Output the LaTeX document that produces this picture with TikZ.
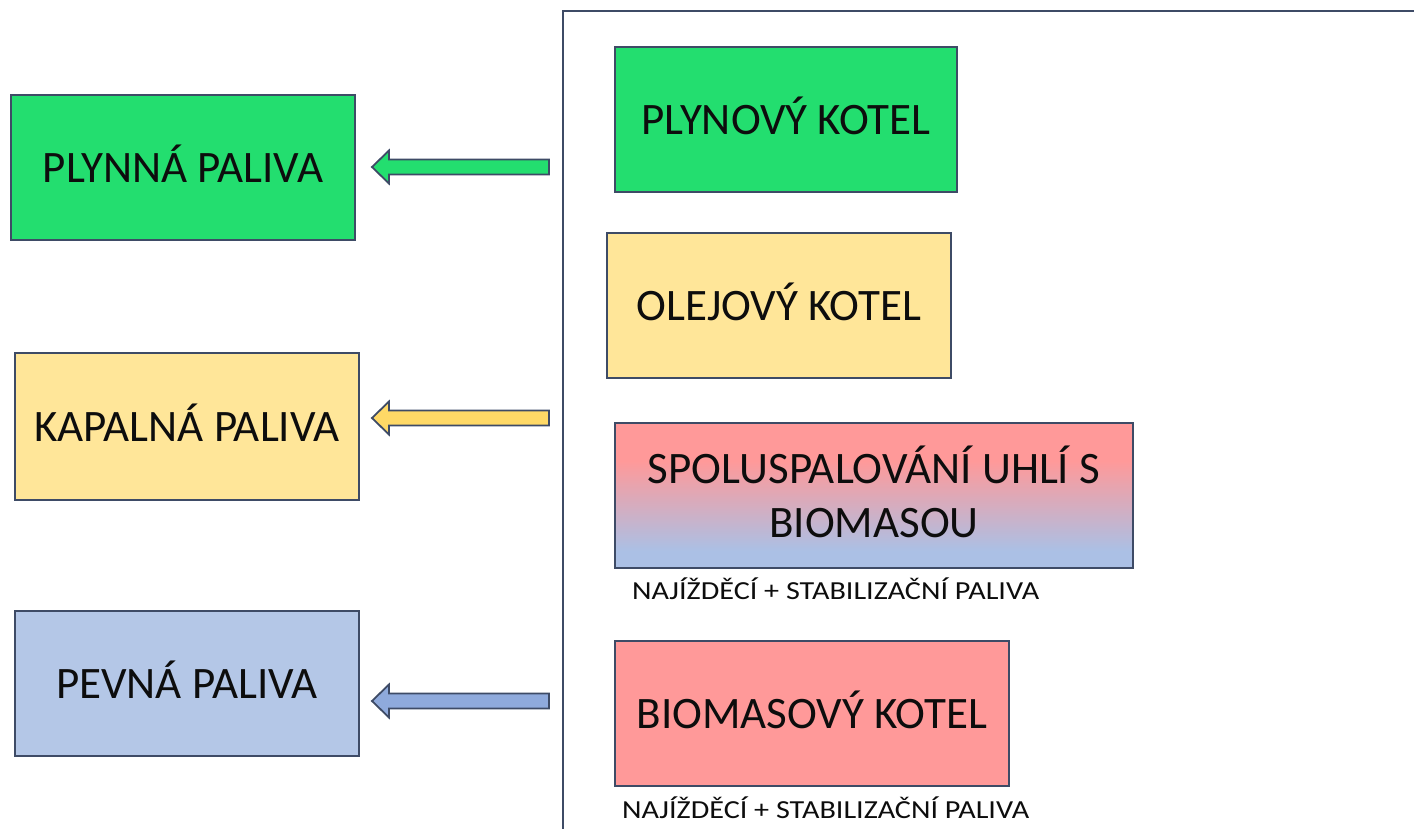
\documentclass[tikz,border=0pt]{standalone}
\usepackage{fontspec}
\setmainfont{Carlito}
\usetikzlibrary{positioning}
\definecolor{edge}{HTML}{3E4B66}
\definecolor{gasg}{HTML}{23DE6F}
\definecolor{liqy}{HTML}{FFE699}
\definecolor{liqa}{HTML}{FFD966}
\definecolor{solb}{HTML}{B4C7E7}
\definecolor{sola}{HTML}{8FAADC}
\definecolor{pnk}{HTML}{FF9999}
\definecolor{blu}{HTML}{ABC0E5}
\definecolor{txt}{HTML}{0D0D0D}
\pgfdeclareverticalshading{pinkblue}{100bp}{color(0bp)=(blu); color(31bp)=(blu); color(62bp)=(pnk); color(100bp)=(pnk)}
\begin{document}
\begin{tikzpicture}[x=1pt,y=-1pt,
  box/.style={draw=edge, line width=1.4pt, rectangle, minimum height=145pt, inner sep=0pt, text=txt, font=\fontsize{45}{54}\selectfont, align=center, text height=29pt, text depth=0pt},
  note/.style={anchor=west, inner sep=0pt, text=txt, font=\fontsize{26}{30}\selectfont\addfontfeature{FakeStretch=1.16}},
  blockarrow/.style={draw=edge, line width=1.8pt, line join=miter}]
\useasboundingbox (0,0) rectangle (1414,828);
\fill[white] (0,0) rectangle (1414,828);
% frame
\draw[edge, line width=2pt] (563,840) -- (563,11) -- (1430,11);
% left boxes
\node[box, fill=gasg, minimum width=344pt] (gas) at (183,167.5) {PLYNNÁ PALIVA};
\node[box, fill=liqy, minimum width=344pt, minimum height=147pt] (liq) at (187,426.5) {KAPALNÁ PALIVA};
\node[box, fill=solb, minimum width=344pt] (sol) at (187,683.5) {PEVNÁ PALIVA};
% right boxes
\node[box, fill=gasg, minimum width=342pt] (gk) at (786,119.5) {PLYNOVÝ KOTEL};
\node[box, fill=liqy, minimum width=344pt] (ok) at (779,305.5) {OLEJOVÝ KOTEL};
\node[box, shading=pinkblue, minimum width=518pt, text height=83pt] (sp) at (874,495.5) {SPOLUSPALOVÁNÍ UHLÍ S\\BIOMASOU};
\node[box, fill=pnk, minimum width=394pt] (bk) at (812,713.5) {BIOMASOVÝ KOTEL};
% notes
\node[note] (n1) at (632,589) {NAJÍŽDĚCÍ + STABILIZAČNÍ PALIVA};
\node[note] (n2) at (622,808) {NAJÍŽDĚCÍ + STABILIZAČNÍ PALIVA};
% block arrows
\foreach \yy/\cc/\nm in {167/gasg/a1, 418/liqa/a2, 701/sola/a3}{
  \coordinate (\nm) at (372,\yy);
  \draw[blockarrow, fill=\cc] (\nm) -- ++(17,-16.5) -- ++(0,9) -- ++(160,0) -- ++(0,15) -- ++(-160,0) -- ++(0,9) -- cycle;
}
\end{tikzpicture}
\end{document}
